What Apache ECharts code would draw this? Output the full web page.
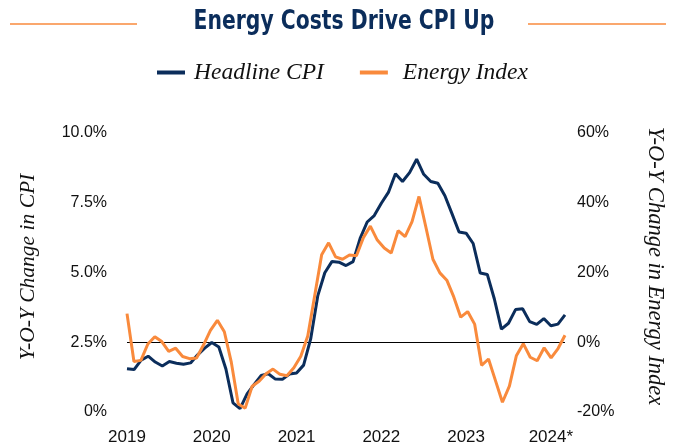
<!DOCTYPE html>
<html>
<head>
<meta charset="utf-8">
<script src="https://cdn.jsdelivr.net/npm/echarts@6/dist/echarts.min.js"></script>
<style>
html,body{margin:0;padding:0;background:#fff;}
#c{width:676px;height:446px;}
</style>
</head>
<body>
<div id="c"></div>
<script>
// Months for Headline CPI (Jan 2019 - Mar 2024)
const cpiMonths = [];
for (let y = 2019; y <= 2024; y++) for (let m = 1; m <= 12; m++) {
  if (y === 2024 && m > 3) break;
  cpiMonths.push(y + '-' + String(m).padStart(2, '0'));
}
// Months for Energy Index (Dec 2018 - Mar 2024)
const energyMonths = ['2018-12'].concat(cpiMonths);

const yearLabels = {'2019':'2019','2020':'2020','2021':'2021','2022':'2022','2023':'2023','2024':'2024*'};

const headlineCPI = [
  1.55, 1.52, 1.86, 2.00, 1.79, 1.65, 1.81, 1.75, 1.71, 1.76, 2.05, 2.29,
  2.49, 2.33, 1.54, 0.33, 0.12, 0.65, 0.99, 1.31, 1.37, 1.18, 1.17, 1.36,
  1.40, 1.68, 2.62, 4.16, 4.99, 5.39, 5.37, 5.25, 5.39, 6.22, 6.81, 7.04,
  7.48, 7.87, 8.54, 8.26, 8.58, 9.06, 8.52, 8.26, 8.20, 7.75, 7.11, 6.45,
  6.41, 6.04, 4.98, 4.93, 4.05, 2.97, 3.18, 3.67, 3.70, 3.24, 3.14, 3.35,
  3.09, 3.15, 3.48
];

const energyIndex = [
  8.2,
  -5.5, -5.2, -0.5, 1.6, 0.2, -2.6, -1.7, -4.1, -4.7, -4.5, -0.8, 3.4,
  6.3, 3.0, -5.7, -17.7, -18.9, -12.6, -11.2, -9.0, -7.7, -9.2, -9.6, -7.3,
  -4.0, 1.8, 13.4, 25.1, 28.5, 24.5, 23.8, 25.0, 24.8, 30.0, 33.3, 29.3,
  27.0, 25.6, 32.0, 30.3, 34.6, 41.8, 32.9, 23.8, 19.9, 17.8, 13.0, 7.2,
  8.8, 5.2, -6.6, -4.8, -11.0, -17.2, -12.6, -3.9, -0.4, -4.3, -5.3, -1.6,
  -4.5, -1.8, 2.0
];

const cpiTicks = {min: 0, max: 10, interval: 2.5};
const energyTicks = {min: -20, max: 60, interval: 20};

const NAVY = '#0b2d5b';
const ORANGE = '#f98a3c';
const serif = '"Liberation Serif", "DejaVu Serif", serif';
const sans = '"Liberation Sans", Arial, sans-serif';
const narrow = '"Liberation Sans Narrow", "DejaVu Sans Condensed", sans-serif';

const chart = echarts.init(document.getElementById('c'), null, {renderer: 'canvas'});
chart.setOption({
  animation: false,
  backgroundColor: '#ffffff',
  legend: {
    top: 61,
    left: 157,
    padding: 0,
    icon: 'rect',
    itemWidth: 28,
    itemHeight: 4,
    itemGap: 36,
    textStyle: {
      color: '#111',
      fontFamily: serif,
      fontStyle: 'italic',
      fontSize: 23.5,
      padding: [0, 0, 0, 4]
    },
    data: [
      {name: 'Headline CPI'},
      {name: 'Energy Index', textStyle: {padding: [0, 0, 0, 10]}}
    ]
  },
  grid: {left: 127, right: 111, top: 133, bottom: 30, containLabel: false},
  xAxis: [{
    type: 'category',
    data: cpiMonths,
    boundaryGap: false,
    axisLine: {show: false},
    axisTick: {show: false},
    splitLine: {show: false},
    axisLabel: {
      interval: (idx, val) => val.endsWith('-01'),
      formatter: (val) => yearLabels[val.slice(0, 4)],
      color: '#111',
      fontFamily: sans,
      fontSize: 17,
      margin: 17
    }
  }, {
    type: 'category',
    data: energyMonths,
    boundaryGap: false,
    show: false
  }],
  yAxis: [{
    type: 'value',
    min: cpiTicks.min, max: cpiTicks.max, interval: cpiTicks.interval,
    axisLine: {show: false},
    axisTick: {show: false},
    splitLine: {show: false},
    axisLabel: {
      formatter: (v) => v === 0 ? '0%' : v.toFixed(1) + '%',
      color: '#111',
      fontFamily: sans,
      fontSize: 16,
      margin: 20
    }
  }, {
    type: 'value',
    min: energyTicks.min, max: energyTicks.max, interval: energyTicks.interval,
    axisLine: {show: false},
    axisTick: {show: false},
    splitLine: {show: false},
    axisLabel: {
      formatter: (v) => v + '%',
      color: '#111',
      fontFamily: sans,
      fontSize: 16,
      margin: 12
    }
  }],
  series: [{
    name: 'Headline CPI',
    type: 'line',
    xAxisIndex: 0,
    yAxisIndex: 0,
    data: headlineCPI,
    symbol: 'none',
    z: 3,
    lineStyle: {color: NAVY, width: 3},
    itemStyle: {color: NAVY}
  }, {
    name: 'Energy Index',
    type: 'line',
    xAxisIndex: 1,
    yAxisIndex: 1,
    data: energyIndex,
    symbol: 'none',
    z: 4,
    lineStyle: {color: ORANGE, width: 3},
    itemStyle: {color: ORANGE},
    markLine: {
      silent: true,
      symbol: 'none',
      label: {show: false},
      lineStyle: {color: '#000', width: 1, type: 'solid'},
      data: [{yAxis: 0}],
      z: 1
    }
  }],
  graphic: [
    {type: 'line', shape: {x1: 10, y1: 24, x2: 137, y2: 24}, style: {stroke: ORANGE, lineWidth: 1.5}},
    {type: 'line', shape: {x1: 528, y1: 24, x2: 666, y2: 24}, style: {stroke: ORANGE, lineWidth: 1.5}},
    {type: 'text', x: 344, y: 22, scaleX: 0.87, scaleY: 1,
      style: {text: 'Energy Costs Drive CPI Up', fill: NAVY, font: 'bold 26px ' + narrow, textAlign: 'center', textVerticalAlign: 'middle'}},
    {type: 'text', x: 28, y: 267, rotation: Math.PI / 2,
      style: {text: 'Y-O-Y Change in CPI', fill: '#111', font: 'italic 21.5px ' + serif, textAlign: 'center', textVerticalAlign: 'middle'}},
    {type: 'text', x: 655, y: 266, rotation: -Math.PI / 2,
      style: {text: 'Y-O-Y Change in Energy Index', fill: '#111', font: 'italic 22.5px ' + serif, textAlign: 'center', textVerticalAlign: 'middle'}}
  ]
});
</script>
</body>
</html>
